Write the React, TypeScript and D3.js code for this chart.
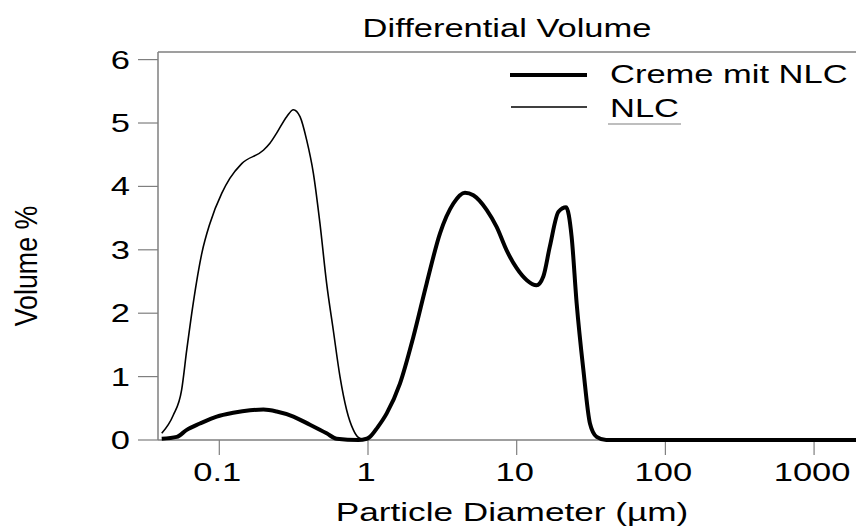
import React from "react";
import * as d3 from "d3";

const W = 856;
const H = 529;

// Particle diameter (µm) and differential volume (%)
const nlcDiameter = [0.041, 0.049, 0.0558, 0.0604, 0.0668, 0.0762, 0.0866, 0.1038, 0.118, 0.1415, 0.1978, 0.219, 0.243, 0.284, 0.315, 0.349, 0.387, 0.429, 0.475, 0.527, 0.584, 0.648, 0.719, 0.797, 0.861, 0.955];
const nlcVolume = [0.105, 0.39, 0.79, 1.42, 2.16, 2.94, 3.42, 3.89, 4.13, 4.36, 4.57, 4.68, 4.84, 5.1, 5.21, 5.1, 4.73, 4.21, 3.42, 2.47, 1.735, 1.0, 0.47, 0.16, 0.04, 0.0];

const cremeDiameter = [0.041, 0.0518, 0.0604, 0.0741, 0.0961, 0.124, 0.161, 0.198, 0.243, 0.315, 0.407, 0.527, 0.616, 0.86, 0.98, 1.03, 1.16, 1.336, 1.64, 2.02, 2.48, 3.05, 3.75, 4.49, 5.11, 6.28, 7.33, 8.56, 10.0, 11.7, 13.6, 15.1, 16.7, 19.1, 21.5, 23.4, 25.3, 28.1, 31.1, 34.5, 40, 100, 1000, 1914];
const cremeVolume = [0.02, 0.05, 0.16, 0.26, 0.37, 0.43, 0.47, 0.48, 0.45, 0.37, 0.24, 0.105, 0.02, 0.0, 0.02, 0.05, 0.2, 0.42, 0.89, 1.63, 2.47, 3.26, 3.73, 3.9, 3.86, 3.63, 3.36, 2.99, 2.71, 2.52, 2.44, 2.58, 3.05, 3.6, 3.67, 3.21, 2.16, 1.1, 0.26, 0.05, 0.0, 0.0, 0.0, 0.0];

const xTicks = [0.1, 1, 10, 100, 1000];
const xTickLabels = ["0.1", "1", "10", "100", "1000"];
const yTicks = [0, 1, 2, 3, 4, 5, 6];

const seriesNames = ["Creme mit NLC", "NLC"];
const titleText = "Differential Volume";
const xLabelText = "Particle Diameter (µm)";
const yLabelText = "Volume %";

const xDomain = [0.0387, 1914];
const yDomain = [0, 6.12];

const FONT = "'Liberation Sans', Arial, sans-serif";
const SX = 1.38; // horizontal stretch of the original text
const AXIS = "#7f7f7f";

export default function App() {
  const left = 158, right = 856, top = 52, bottom = 440;
  const x = d3.scaleLog().domain(xDomain).range([left, right]);
  const y = d3.scaleLinear().domain(yDomain).range([bottom, top]);

  const line = d3
    .line<[number, number]>()
    .x((d) => x(d[0]))
    .y((d) => y(d[1]))
    .curve(d3.curveMonotoneX);

  const nlcPts = nlcDiameter.map((d, i) => [d, nlcVolume[i]] as [number, number]);
  const cremePts = cremeDiameter.map((d, i) => [d, cremeVolume[i]] as [number, number]);

  const txt = (s: string, tx: number, ty: number, anchor: string, size = 25, key?: string) => (
    <text
      key={key}
      transform={`translate(${tx},${ty}) scale(${SX},1)`}
      textAnchor={anchor}
      fontFamily={FONT}
      fontSize={size}
      fill="#000"
    >
      {s}
    </text>
  );

  return (
    <svg
      width={W}
      height={H}
      style={{ position: "absolute", left: 0, top: 0, background: "#fff" }}
    >
      <rect x={0} y={0} width={W} height={H} fill="#fff" />
      {/* frame */}
      <line x1={left} x2={right} y1={top} y2={top} stroke={AXIS} strokeWidth={1.5} />
      <line x1={left} x2={left} y1={top} y2={bottom} stroke={AXIS} strokeWidth={1.5} />
      <line x1={left} x2={right} y1={bottom} y2={bottom} stroke={AXIS} strokeWidth={1.5} />

      {/* y ticks */}
      {yTicks.map((t) => (
        <g key={"y" + t}>
          <line x1={left - 20} x2={left} y1={y(t)} y2={y(t)} stroke={AXIS} strokeWidth={1.2} />
          {txt(String(t), 130, y(t) + 9, "end")}
        </g>
      ))}

      {/* x ticks */}
      {xTicks.map((t, i) => (
        <g key={"x" + t}>
          <line x1={x(t)} x2={x(t)} y1={bottom} y2={bottom + 15} stroke={AXIS} strokeWidth={1.2} />
          {txt(xTickLabels[i], x(t) - 2, 481, "middle")}
        </g>
      ))}

      {/* curves */}
      <path d={line(nlcPts) || ""} fill="none" stroke="#000" strokeWidth={1.6} strokeLinejoin="round" />
      <path d={line(cremePts) || ""} fill="none" stroke="#000" strokeWidth={4} strokeLinejoin="round" />

      {/* title and axis labels */}
      {txt(titleText, 507, 37, "middle")}
      {txt(xLabelText, 512, 521, "middle", 25.5)}
      <text
        transform={`translate(37,266) rotate(-90) scale(1,1.15)`}
        textAnchor="middle"
        fontFamily={FONT}
        fontSize={26.8}
        fill="#000"
      >
        {yLabelText}
      </text>

      {/* legend */}
      <line x1={510} x2={587} y1={75} y2={75} stroke="#000" strokeWidth={4} />
      {txt(seriesNames[0], 610, 83, "start")}
      <line x1={511} x2={587} y1={107} y2={107} stroke="#000" strokeWidth={1.6} />
      {txt(seriesNames[1], 610, 117, "start")}
      <line x1={608} x2={681} y1={124} y2={124} stroke={AXIS} strokeWidth={1.2} />
    </svg>
  );
}
